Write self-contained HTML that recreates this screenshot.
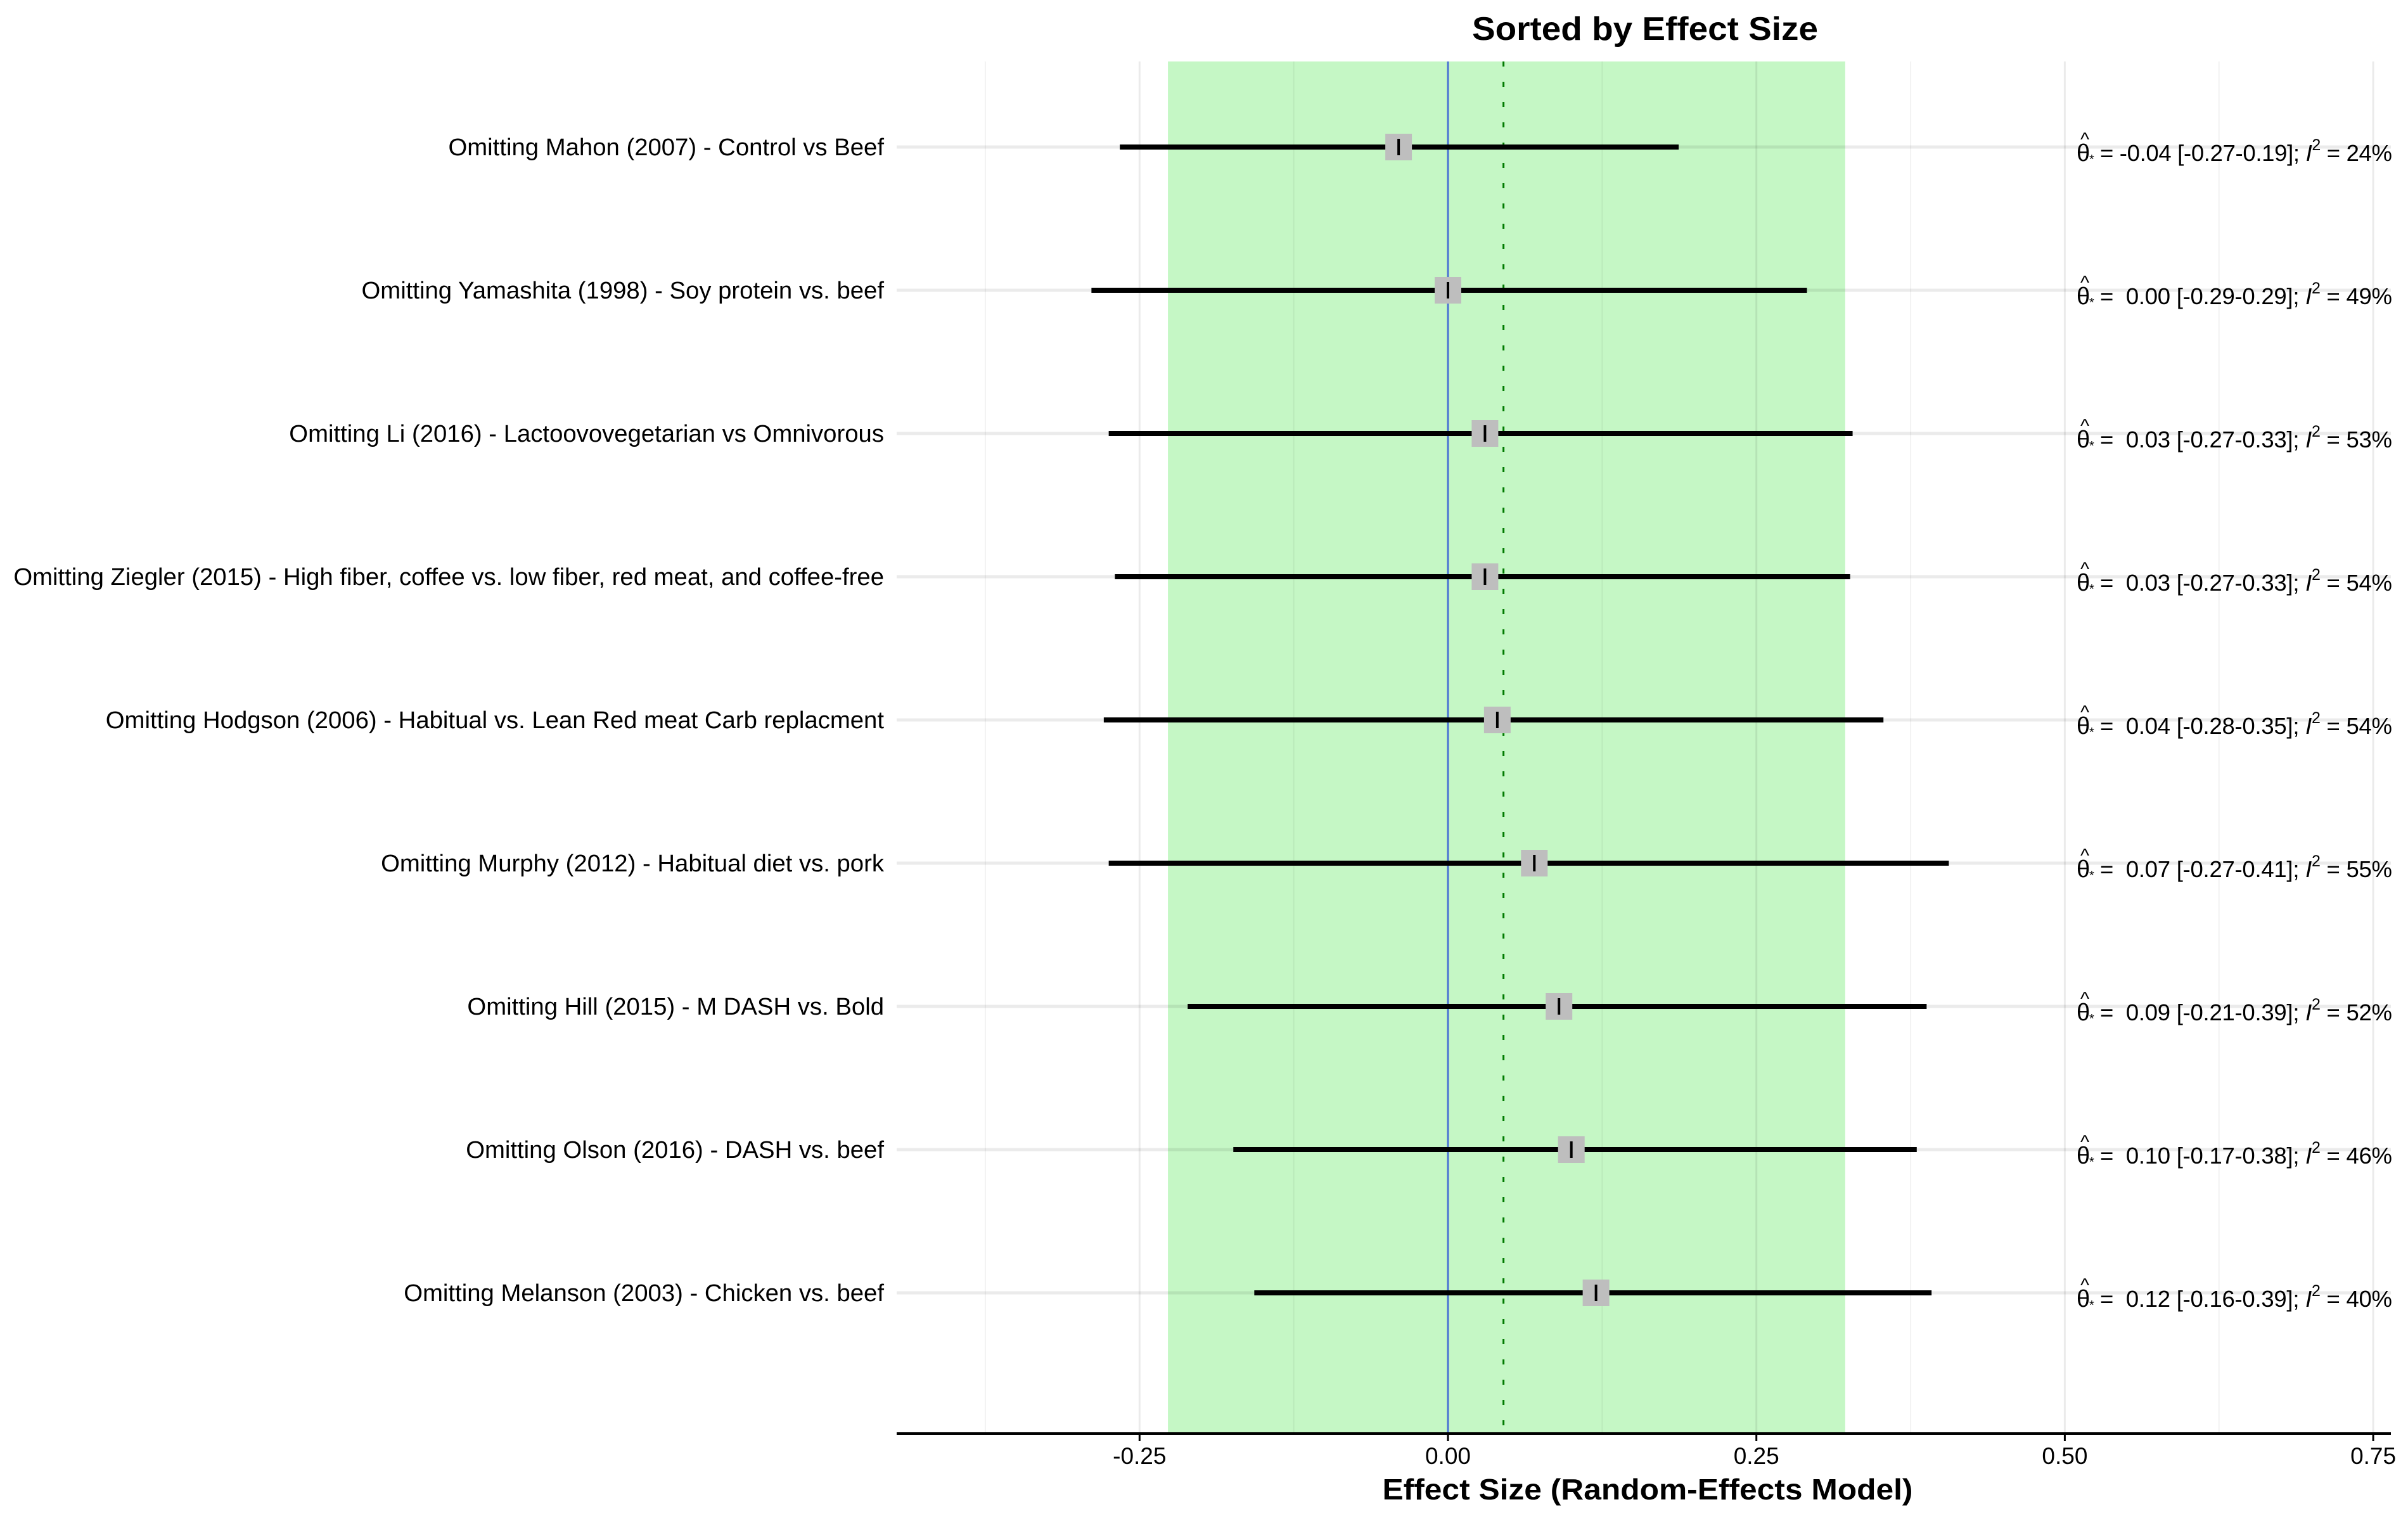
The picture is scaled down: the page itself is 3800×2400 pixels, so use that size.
<!DOCTYPE html>
<html><head><meta charset="utf-8"><style>
html,body{margin:0;padding:0;background:#fff}
svg{display:block}
text{font-family:"Liberation Sans",Arial,sans-serif;white-space:pre}
</style></head><body>
<svg id="chart" width="3800" height="2400" viewBox="0 0 3800 2400" xmlns="http://www.w3.org/2000/svg">
<text x="2596" y="63" font-size="52" font-weight="bold" text-anchor="middle" textLength="546" lengthAdjust="spacingAndGlyphs">Sorted by Effect Size</text>
<g id="grid"></g>
<g id="marks"></g>
<text x="2600" y="2366" font-size="46" font-weight="bold" text-anchor="middle" textLength="837" lengthAdjust="spacingAndGlyphs">Effect Size (Random-Effects Model)</text>
</svg>
<script>
const labels = [
"Omitting Mahon (2007) - Control vs Beef",
"Omitting Yamashita (1998) - Soy protein vs. beef",
"Omitting Li (2016) - Lactoovovegetarian vs Omnivorous",
"Omitting Ziegler (2015) - High fiber, coffee vs. low fiber, red meat, and coffee-free",
"Omitting Hodgson (2006) - Habitual vs. Lean Red meat Carb replacment",
"Omitting Murphy (2012) - Habitual diet vs. pork",
"Omitting Hill (2015) - M DASH vs. Bold",
"Omitting Olson (2016) - DASH vs. beef",
"Omitting Melanson (2003) - Chicken vs. beef"];
const estimates = [-0.04, 0.00, 0.03, 0.03, 0.04, 0.07, 0.09, 0.10, 0.12];
const lowerCI = [-0.266, -0.289, -0.275, -0.270, -0.279, -0.275, -0.211, -0.174, -0.157];
const upperCI = [0.187, 0.291, 0.328, 0.326, 0.353, 0.406, 0.388, 0.380, 0.392];
const annotEst = ["-0.04", " 0.00", " 0.03", " 0.03", " 0.04", " 0.07", " 0.09", " 0.10", " 0.12"];
const annotCI = ["[-0.27-0.19]", "[-0.29-0.29]", "[-0.27-0.33]", "[-0.27-0.33]", "[-0.28-0.35]", "[-0.27-0.41]", "[-0.21-0.39]", "[-0.17-0.38]", "[-0.16-0.39]"];
const i2 = [24, 49, 53, 54, 54, 55, 52, 46, 40];
const xTicks = [-0.25, 0, 0.25, 0.5, 0.75];
const xTickLabels = ["-0.25", "0.00", "0.25", "0.50", "0.75"];
const xMinor = [-0.375, -0.125, 0.125, 0.375, 0.625];
const pooled = 0.045;
const bandLo = -0.227, bandHi = 0.322;

const NS = "http://www.w3.org/2000/svg";
const X0 = 2285, XS = 1946.8;
const x = v => X0 + v * XS;
const y = i => 232 + i * 226;
const PL = 1415, PR = 3773, PT = 97, PB = 2262;
function mk(parent, tag, attrs) {
  const e = document.createElementNS(NS, tag);
  for (const k in attrs) e.setAttribute(k, attrs[k]);
  parent.appendChild(e);
  return e;
}
const grid = document.getElementById('grid');
const marks = document.getElementById('marks');

const band = mk(grid, 'rect', {x: x(bandLo), y: PT, width: x(bandHi) - x(bandLo), height: PB - PT, fill: '#c5f7c5'});



xMinor.forEach(v => {
  const l = mk(grid, 'line', {x1: x(v), x2: x(v), y1: PT, y2: PB, stroke: '#000', 'stroke-opacity': 0.05, 'stroke-width': 2});
  
  
});
xTicks.forEach(v => {
  const l = mk(grid, 'line', {x1: x(v), x2: x(v), y1: PT, y2: PB, stroke: '#000', 'stroke-opacity': 0.08, 'stroke-width': 3});
  
  
});
labels.forEach((s, i) => {
  const l = mk(grid, 'line', {x1: PL, x2: PR, y1: y(i), y2: y(i), stroke: '#000', 'stroke-opacity': 0.08, 'stroke-width': 5});
  
  
});

const zl = mk(grid, 'line', {x1: x(0), x2: x(0), y1: PT, y2: PB, stroke: '#4a72d4', 'stroke-width': 3});


const pl = mk(grid, 'line', {x1: x(pooled), x2: x(pooled), y1: PT, y2: PB, stroke: '#007a00', 'stroke-width': 3, 'stroke-dasharray': '8 24'});



labels.forEach((s, i) => {
  const t = mk(marks, 'text', {x: 1395, y: y(i) + 13, 'font-size': 38.3, 'text-anchor': 'end'});
  t.textContent = s;
  
  

  const ci = mk(marks, 'line', {x1: x(lowerCI[i]), x2: x(upperCI[i]), y1: y(i), y2: y(i), stroke: '#000', 'stroke-width': 8});
  
  

  const b = mk(marks, 'rect', {x: x(estimates[i]) - 21, y: y(i) - 21, width: 42, height: 42, fill: '#bebebe'});
  
  
  const tk = mk(marks, 'line', {x1: x(estimates[i]), x2: x(estimates[i]), y1: y(i) - 13, y2: y(i) + 13, stroke: '#000', 'stroke-width': 4});
  
  

  const g = mk(marks, 'g', {});
  
  
  const hat = mk(g, 'text', {x: 3283, y: y(i) - 2, 'font-size': 30});
  hat.textContent = '^';
  const th = mk(g, 'text', {x: 3277, y: y(i) + 22, 'font-size': 38, 'font-family': '"Liberation Serif", serif'});
  th.textContent = 'θ';
  const st = mk(g, 'text', {x: 3297, y: y(i) + 26, 'font-size': 20});
  st.textContent = '*';
  const main = mk(g, 'text', {x: 3314, y: y(i) + 22, 'font-size': 36.5, textLength: 461, lengthAdjust: 'spacing'});
  main.textContent = '= ' + annotEst[i] + ' ' + annotCI[i] + '; ';
  const it = mk(main, 'tspan', {'font-style': 'italic'});
  it.textContent = 'I';
  const sup = mk(main, 'tspan', {dy: -17, 'font-size': 25});
  sup.textContent = '2';
  const rest = mk(main, 'tspan', {dy: 17});
  rest.textContent = ' = ' + i2[i] + '%';
});

const ax = mk(marks, 'line', {x1: PL, x2: PR, y1: PB, y2: PB, stroke: '#000', 'stroke-width': 4});


xTicks.forEach((v, k) => {
  const l = mk(marks, 'line', {x1: x(v), x2: x(v), y1: PB, y2: PB + 12, stroke: '#000', 'stroke-width': 3});
  
  
  const t = mk(marks, 'text', {x: x(v), y: PB + 48, 'font-size': 37, 'text-anchor': 'middle'});
  t.textContent = xTickLabels[k];
  
  
});
</script>
</body></html>
